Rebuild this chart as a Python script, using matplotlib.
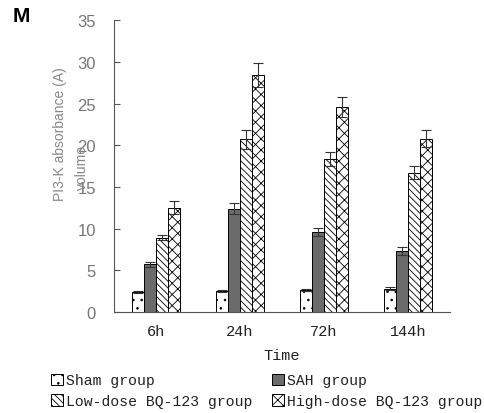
import matplotlib.pyplot as plt
import numpy as np

times = ["6h", "24h", "72h", "144h"]
groups = ["Sham group", "SAH group", "Low-dose BQ-123 group", "High-dose BQ-123 group"]

sham = [2.4, 2.5, 2.6, 2.8]
sah = [5.7, 12.4, 9.6, 7.3]
low = [8.9, 20.7, 18.3, 16.7]
high = [12.5, 28.4, 24.6, 20.8]

sham_err = [0.15, 0.1, 0.1, 0.15]
sah_err = [0.3, 0.65, 0.5, 0.45]
low_err = [0.3, 1.1, 0.85, 0.75]
high_err = [0.75, 1.4, 1.2, 1.0]

values = [sham, sah, low, high]
errors = [sham_err, sah_err, low_err, high_err]

# styles: face colour and hatch for each group
faces = ["white", "#6b6b6b", "white", "white"]
hatches = ["..", "", "\\\\\\\\\\", "xxx"]

plt.rcParams['hatch.linewidth'] = 0.6
mono = "Liberation Mono"

fig = plt.figure(figsize=(4.85, 4.14), dpi=100)
ax = fig.add_axes([0.235, 0.244, 0.693, 0.705])

x = np.arange(len(times)) + 0.5
w = 0.143
bars = []
for i in range(4):
    pos = x + (i - 1.5) * w
    b = ax.bar(pos, values[i], w, color=faces[i], edgecolor="black", linewidth=0.7,
               hatch=hatches[i], label=groups[i], zorder=2)
    bars.append(b)
    ax.errorbar(pos, values[i], yerr=errors[i], fmt="none", ecolor="#333333",
                elinewidth=0.8, capsize=3.5, capthick=0.8, zorder=3)

ax.set_xlim(0, 4)
ax.set_ylim(0, 35)
ax.set_yticks(np.arange(0, 36, 5))
ax.set_xticks(x)
ax.set_xticklabels(times, fontfamily=mono, fontsize=11, color="#222222")
ax.tick_params(axis="x", length=0, pad=9)
ax.tick_params(axis="y", direction="in", length=4, color="#555555",
               labelcolor="#777777", labelsize=12, pad=13)
for lab in ax.get_yticklabels():
    lab.set_fontfamily("Liberation Sans")

for s in ["top", "right"]:
    ax.spines[s].set_visible(False)
ax.spines["left"].set_color("#555555")
ax.spines["bottom"].set_color("#555555")

ax.set_xlabel("Time", fontfamily=mono, fontsize=11, color="#222222", labelpad=7)

fig.text(60 / 485, 1 - 134 / 414, "PI3-K absorbance (A)", rotation=90,
         ha="center", va="center", fontsize=10, color="#888888",
         fontfamily="Liberation Sans")
fig.text(82 / 485, 1 - 168 / 414, "volume", rotation=90,
         ha="center", va="center", fontsize=10, color="#888888",
         fontfamily="Liberation Sans")
fig.text(21 / 485, 1 - 17 / 414, "M", ha="center", va="center", fontsize=15,
         fontweight="bold", fontfamily="Liberation Sans")

# legend rows: Sham, SAH / Low, High (ncol fills column-wise)
order = [0, 2, 1, 3]
leg = fig.legend([bars[k] for k in order], [groups[k] for k in order],
                 loc="lower left", bbox_to_anchor=(0.105, 0.012), ncol=2,
                 frameon=False, prop={"family": mono, "size": 10.6},
                 handlelength=0.8, handleheight=0.8, handletextpad=0.25,
                 columnspacing=1.3, labelspacing=0.45, borderpad=0.0,
                 borderaxespad=0.0)
for t in leg.get_texts():
    t.set_color("#222222")

fig.savefig("out.png", dpi=100)
